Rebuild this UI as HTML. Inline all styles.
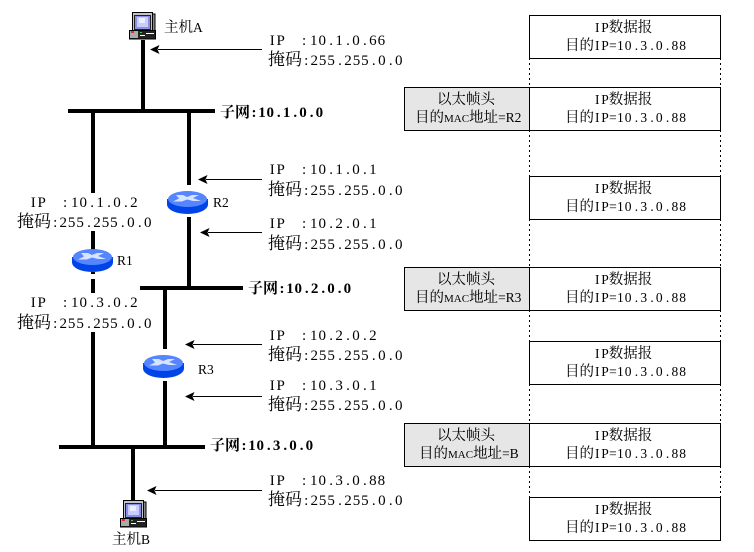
<!DOCTYPE html>
<html><head><meta charset="utf-8">
<style>
html,body{margin:0;padding:0;background:#fff}
svg{display:block}
text{font-family:"Liberation Serif","Noto Serif CJK SC",serif;font-size:15px;fill:#000}
.c{font-family:"Noto Serif CJK SC","Liberation Serif",serif;font-size:17px}
.s{font-size:13.500px}
.s .c{font-size:14.500px}
.mac{font-size:11px}
.b{font-weight:bold}
.b .c{font-size:15px;font-weight:bold}
</style></head><body>
<svg width="754" height="552" viewBox="0 0 754 552" xmlns="http://www.w3.org/2000/svg">
<defs>
<g id="router">
<ellipse cx="20.500" cy="13.500" rx="20.500" ry="9.500" fill="#0044e8"/>
<rect x="0" y="8" width="41" height="6" fill="#0044e8"/>
<ellipse cx="20.500" cy="8" rx="19.500" ry="8" fill="#5585ff"/>
<path d="M9 4h7l4 2 5-2h7l-6 3 8 3h-8l-6-1.500-5 2h-9l6-3z" fill="#d8e4ff"/>
</g>
<g id="host">
<path d="M6 2h20v20H6z" fill="#8a8a8a" stroke="#000"/>
<rect x="3.500" y="0.500" width="20" height="20" fill="#c4c4c4" stroke="#000"/>
<rect x="5.500" y="3.500" width="16" height="14" fill="#8a90e8" stroke="#222"/>
<rect x="8" y="5" width="11" height="10" fill="#c8ccff"/>
<rect x="10" y="6" width="6" height="5" fill="#eceeff"/>
<rect x="0.500" y="18.500" width="26" height="8.500" fill="#222" stroke="#000"/>
<rect x="1" y="19" width="8" height="7" fill="#aaa"/>
<rect x="2" y="19" width="3" height="2" fill="#e03030"/>
<rect x="11" y="20" width="2" height="1" fill="#4c4"/>
<rect x="11" y="23" width="5" height="1" fill="#fff"/>
<rect x="17" y="21" width="8" height="1" fill="#fff"/>
</g>
<path id="ah" d="M0 0l9.500-4.500-2 4.500 2 4.500z" fill="#000"/>
</defs>

<g fill="#000" shape-rendering="crispEdges">
<rect x="141" y="40" width="4" height="70"/>
<rect x="68" y="109" width="147" height="4"/>
<rect x="91" y="111" width="4" height="82"/>
<rect x="91" y="231" width="4" height="20"/>
<rect x="91" y="272" width="4" height="2"/>
<rect x="91" y="279" width="4" height="14"/>
<rect x="91" y="332" width="4" height="115"/>
<rect x="187" y="111" width="4" height="74"/>
<rect x="187" y="217" width="4" height="71"/>
<rect x="140" y="286" width="103" height="4"/>
<rect x="163" y="288" width="4" height="61"/>
<rect x="163" y="381" width="4" height="66"/>
<rect x="59" y="445" width="146" height="4"/>
<rect x="131" y="447" width="4" height="53"/>
</g>

<use href="#router" x="167" y="191"/>
<use href="#router" x="72" y="249"/>
<use href="#router" x="143" y="355"/>
<use href="#host" x="129" y="12"/>
<use href="#host" x="120" y="500"/>

<g stroke="#000" stroke-width="1" shape-rendering="crispEdges">
<line x1="158" y1="49.500" x2="262" y2="49.500"/>
<line x1="206" y1="179.500" x2="262" y2="179.500"/>
<line x1="208" y1="232.500" x2="262" y2="232.500"/>
<line x1="193" y1="344.500" x2="262" y2="344.500"/>
<line x1="193" y1="396.500" x2="262" y2="396.500"/>
<line x1="155" y1="490.500" x2="262" y2="490.500"/>
</g>
<use href="#ah" x="150" y="49.500"/>
<use href="#ah" x="198" y="179.500"/>
<use href="#ah" x="200" y="232.500"/>
<use href="#ah" x="185" y="344.500"/>
<use href="#ah" x="185" y="396.500"/>
<use href="#ah" x="147" y="490.500"/>

<text x="268" y="45" dx="1.700 1.750 17.200 3.850 .950 3.250 2.400 3.250 2.400 3.250 2.400 .950">IP:10.1.0.66</text>
<text x="268" y="65"><tspan class="c">掩码</tspan><tspan dx="2.100 2.200 .950 .950 3.250 2.400 .950 .950 3.250 2.400 3.250 2.400">:255.255.0.0</tspan></text>
<text x="268" y="174" dx="1.700 1.750 17.200 3.850 .950 3.250 2.400 3.250 2.400 3.250 2.400">IP:10.1.0.1</text>
<text x="268" y="195"><tspan class="c">掩码</tspan><tspan dx="2.100 2.200 .950 .950 3.250 2.400 .950 .950 3.250 2.400 3.250 2.400">:255.255.0.0</tspan></text>
<text x="268" y="228" dx="1.700 1.750 17.200 3.850 .950 3.250 2.400 3.250 2.400 3.250 2.400">IP:10.2.0.1</text>
<text x="268" y="249"><tspan class="c">掩码</tspan><tspan dx="2.100 2.200 .950 .950 3.250 2.400 .950 .950 3.250 2.400 3.250 2.400">:255.255.0.0</tspan></text>
<text x="268" y="340" dx="1.700 1.750 17.200 3.850 .950 3.250 2.400 3.250 2.400 3.250 2.400">IP:10.2.0.2</text>
<text x="268" y="360"><tspan class="c">掩码</tspan><tspan dx="2.100 2.200 .950 .950 3.250 2.400 .950 .950 3.250 2.400 3.250 2.400">:255.255.0.0</tspan></text>
<text x="268" y="390" dx="1.700 1.750 17.200 3.850 .950 3.250 2.400 3.250 2.400 3.250 2.400">IP:10.3.0.1</text>
<text x="268" y="410"><tspan class="c">掩码</tspan><tspan dx="2.100 2.200 .950 .950 3.250 2.400 .950 .950 3.250 2.400 3.250 2.400">:255.255.0.0</tspan></text>
<text x="268" y="485" dx="1.700 1.750 17.200 3.850 .950 3.250 2.400 3.250 2.400 3.250 2.400 .950">IP:10.3.0.88</text>
<text x="268" y="505"><tspan class="c">掩码</tspan><tspan dx="2.100 2.200 .950 .950 3.250 2.400 .950 .950 3.250 2.400 3.250 2.400">:255.255.0.0</tspan></text>
<text x="29" y="207" dx="1.700 1.750 17.200 3.850 .950 3.250 2.400 3.250 2.400 3.250 2.400">IP:10.1.0.2</text>
<text x="17" y="227"><tspan class="c">掩码</tspan><tspan dx="2.100 2.200 .950 .950 3.250 2.400 .950 .950 3.250 2.400 3.250 2.400">:255.255.0.0</tspan></text>
<text x="29" y="307" dx="1.700 1.750 17.200 3.850 .950 3.250 2.400 3.250 2.400 3.250 2.400">IP:10.3.0.2</text>
<text x="17" y="328"><tspan class="c">掩码</tspan><tspan dx="2.100 2.200 .950 .950 3.250 2.400 .950 .950 3.250 2.400 3.250 2.400">:255.255.0.0</tspan></text>

<text class="b" x="220" y="117"><tspan class="c">子网</tspan><tspan dx="1.500 1.700 .750 2.950 2.200 2.950 2.200 2.950 2.200">:10.1.0.0</tspan></text>
<text class="b" x="248" y="293"><tspan class="c">子网</tspan><tspan dx="1.500 1.700 .750 2.950 2.200 2.950 2.200 2.950 2.200">:10.2.0.0</tspan></text>
<text class="b" x="210" y="450"><tspan class="c">子网</tspan><tspan dx="1.500 1.700 .750 2.950 2.200 2.950 2.200 2.950 2.200">:10.3.0.0</tspan></text>

<text class="s" x="164" y="32"><tspan class="c">主机</tspan>A</text>
<text class="s" x="112" y="544"><tspan class="c">主机</tspan>B</text>
<text class="s" x="213" y="207">R2</text>
<text class="s" x="117" y="265">R1</text>
<text class="s" x="198" y="374">R3</text>

<g stroke="#000" stroke-width="1" stroke-dasharray="2 3" shape-rendering="crispEdges">
<line x1="529.500" y1="58" x2="529.500" y2="87"/>
<line x1="720.500" y1="58" x2="720.500" y2="87"/>
<line x1="529.500" y1="130" x2="529.500" y2="176"/>
<line x1="720.500" y1="130" x2="720.500" y2="176"/>
<line x1="529.500" y1="219" x2="529.500" y2="267"/>
<line x1="720.500" y1="219" x2="720.500" y2="267"/>
<line x1="529.500" y1="310" x2="529.500" y2="341"/>
<line x1="720.500" y1="310" x2="720.500" y2="341"/>
<line x1="529.500" y1="384" x2="529.500" y2="423"/>
<line x1="720.500" y1="384" x2="720.500" y2="423"/>
<line x1="529.500" y1="466" x2="529.500" y2="497"/>
<line x1="720.500" y1="466" x2="720.500" y2="497"/>
</g>

<g fill="#e6e6e6" stroke="#000" shape-rendering="crispEdges">
<rect x="404.500" y="87.500" width="125" height="43"/>
<rect x="404.500" y="267.500" width="125" height="43"/>
<rect x="404.500" y="423.500" width="125" height="43"/>
</g>
<g fill="#fff" stroke="#000" shape-rendering="crispEdges">
<rect x="529.500" y="15.500" width="191" height="43"/>
<rect x="529.500" y="87.500" width="191" height="43"/>
<rect x="529.500" y="176.500" width="191" height="43"/>
<rect x="529.500" y="267.500" width="191" height="43"/>
<rect x="529.500" y="341.500" width="191" height="43"/>
<rect x="529.500" y="423.500" width="191" height="43"/>
<rect x="529.500" y="497.500" width="191" height="43"/>
</g>

<text class="s" x="594" y="32" dx="1 1.700">IP<tspan class="c">数据报</tspan></text>
<text class="s" x="565" y="50"><tspan class="c">目的</tspan><tspan dx="1 1.700 .400 .200 1.050 3.250 2.200 3.250 2.200 3.250 2.200 1.050">IP=10.3.0.88</tspan></text>
<text class="s" x="594" y="104" dx="1 1.700">IP<tspan class="c">数据报</tspan></text>
<text class="s" x="565" y="122"><tspan class="c">目的</tspan><tspan dx="1 1.700 .400 .200 1.050 3.250 2.200 3.250 2.200 3.250 2.200 1.050">IP=10.3.0.88</tspan></text>
<text class="s" x="594" y="193" dx="1 1.700">IP<tspan class="c">数据报</tspan></text>
<text class="s" x="565" y="211"><tspan class="c">目的</tspan><tspan dx="1 1.700 .400 .200 1.050 3.250 2.200 3.250 2.200 3.250 2.200 1.050">IP=10.3.0.88</tspan></text>
<text class="s" x="594" y="284" dx="1 1.700">IP<tspan class="c">数据报</tspan></text>
<text class="s" x="565" y="302"><tspan class="c">目的</tspan><tspan dx="1 1.700 .400 .200 1.050 3.250 2.200 3.250 2.200 3.250 2.200 1.050">IP=10.3.0.88</tspan></text>
<text class="s" x="594" y="358" dx="1 1.700">IP<tspan class="c">数据报</tspan></text>
<text class="s" x="565" y="376"><tspan class="c">目的</tspan><tspan dx="1 1.700 .400 .200 1.050 3.250 2.200 3.250 2.200 3.250 2.200 1.050">IP=10.3.0.88</tspan></text>
<text class="s" x="594" y="440" dx="1 1.700">IP<tspan class="c">数据报</tspan></text>
<text class="s" x="565" y="458"><tspan class="c">目的</tspan><tspan dx="1 1.700 .400 .200 1.050 3.250 2.200 3.250 2.200 3.250 2.200 1.050">IP=10.3.0.88</tspan></text>
<text class="s" x="594" y="514" dx="1 1.700">IP<tspan class="c">数据报</tspan></text>
<text class="s" x="565" y="532"><tspan class="c">目的</tspan><tspan dx="1 1.700 .400 .200 1.050 3.250 2.200 3.250 2.200 3.250 2.200 1.050">IP=10.3.0.88</tspan></text>

<text class="s" x="437" y="104"><tspan class="c">以太帧头</tspan></text>
<text class="s" x="415" y="122"><tspan class="c">目的</tspan><tspan class="mac">MAC</tspan><tspan class="c">地址</tspan>=R2</text>
<text class="s" x="437" y="284"><tspan class="c">以太帧头</tspan></text>
<text class="s" x="415" y="302"><tspan class="c">目的</tspan><tspan class="mac">MAC</tspan><tspan class="c">地址</tspan>=R3</text>
<text class="s" x="437" y="440"><tspan class="c">以太帧头</tspan></text>
<text class="s" x="419" y="458"><tspan class="c">目的</tspan><tspan class="mac">MAC</tspan><tspan class="c">地址</tspan>=B</text>
</svg>
</body></html>
